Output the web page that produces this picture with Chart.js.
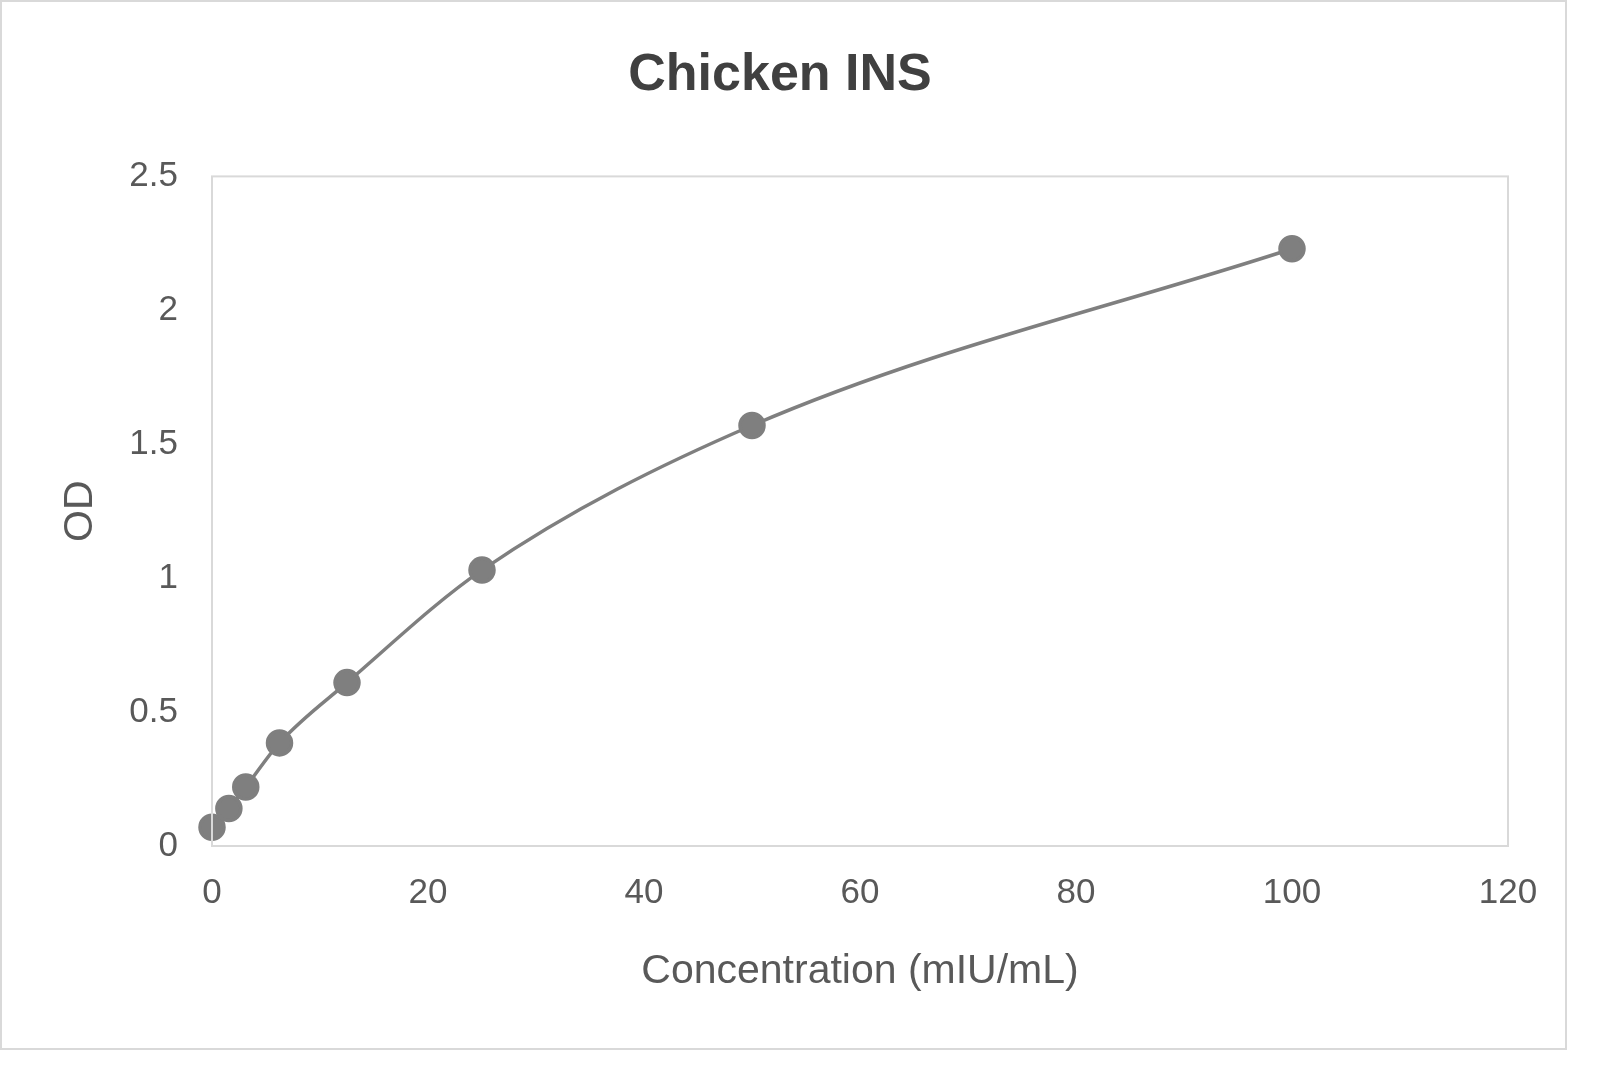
<!DOCTYPE html>
<html><head><script src="https://cdn.jsdelivr.net/npm/chart.js@4"></script>
<style>body{margin:0;background:#fff}#w{position:absolute;left:0;top:0;width:1563px;height:1046px;border:2px solid #d9d9d9}</style>
</head><body><div id="w"><canvas id="c"></canvas></div>
<script>
const concentrations=[0,1.5625,3.125,6.25,12.5,25,50,100];
const odValues=[0.07,0.14,0.22,0.385,0.61,1.03,1.57,2.23];
const xTicks=[0,20,40,60,80,100,120];
const yTicks=[0,0.5,1,1.5,2,2.5];
const frame={id:'frame',afterDraw(c){const a=c.chartArea,x=c.ctx;x.save();x.strokeStyle='#d9d9d9';x.lineWidth=2;x.strokeRect(a.left,a.top,a.right-a.left,a.bottom-a.top);x.restore();}};
const tick={family:'"Liberation Sans",Arial',size:35};
new Chart(document.getElementById('c'),{type:'scatter',
data:{datasets:[{data:concentrations.map((x,i)=>({x,y:odValues[i]})),showLine:true,cubicInterpolationMode:'monotone',borderColor:'#7f7f7f',borderWidth:3.5,pointRadius:12,pointHoverRadius:12,pointBackgroundColor:'#7f7f7f',pointBorderColor:'#7f7f7f'}]},
options:{responsive:true,maintainAspectRatio:false,animation:false,clip:false,
layout:{padding:{left:50,right:57,bottom:48,top:0}},
plugins:{legend:{display:false},tooltip:{enabled:false},title:{display:true,text:'Chicken INS',color:'#404040',font:{family:'"Liberation Sans",Arial',size:52,weight:'bold'},padding:{top:42,bottom:70}}},
scales:{
x:{type:'linear',min:0,max:120,afterBuildTicks(s){s.ticks=xTicks.map(v=>({value:v}))},grid:{display:false},border:{display:false},ticks:{color:'#595959',font:tick,padding:18,callback:v=>String(v)},title:{display:true,text:'Concentration (mIU/mL)',color:'#595959',font:{family:'"Liberation Sans",Arial',size:41},padding:{top:18}},afterFit(s){s.height=154}},
y:{min:0,max:2.5,afterBuildTicks(s){s.ticks=yTicks.map(v=>({value:v}))},grid:{display:false},border:{display:false},ticks:{color:'#595959',font:tick,padding:26,callback:v=>String(v)},title:{display:true,text:'OD',color:'#595959',font:{family:'"Liberation Sans",Arial',size:41}},afterFit(s){s.width=160}}
}},plugins:[frame]});
</script></body></html>
